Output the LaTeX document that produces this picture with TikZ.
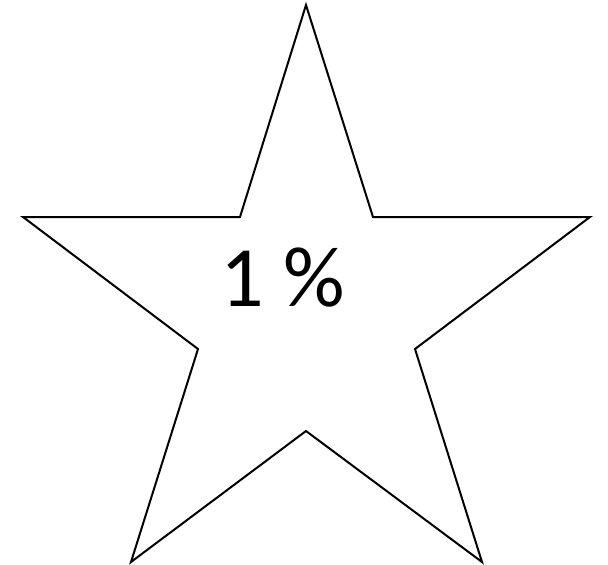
\documentclass[tikz,border=0pt]{standalone}
\usepackage{fontspec}
\setmainfont{Carlito}
\begin{document}
\begin{tikzpicture}[x=1pt,y=-1pt,
  starline/.style={draw=black,line width=2pt,line join=miter},
  label/.style={font=\fontsize{86}{100}\selectfont,inner sep=0pt}]
\useasboundingbox (0,0) rectangle (608,565);
\coordinate (p1) at (306,5);
\coordinate (p2) at (373,217);
\coordinate (p3) at (590,217);
\coordinate (p4) at (415,349);
\coordinate (p5) at (482,562);
\coordinate (p6) at (306,431);
\coordinate (p7) at (131,562);
\coordinate (p8) at (198,349);
\coordinate (p9) at (23,217);
\coordinate (p10) at (240,217);
\draw[starline] (p1) -- (p2) -- (p3) -- (p4) -- (p5) -- (p6) -- (p7) -- (p8) -- (p9) -- (p10) -- cycle;
\node[label] (t) at (283,278) {1 \%};
\end{tikzpicture}
\end{document}
